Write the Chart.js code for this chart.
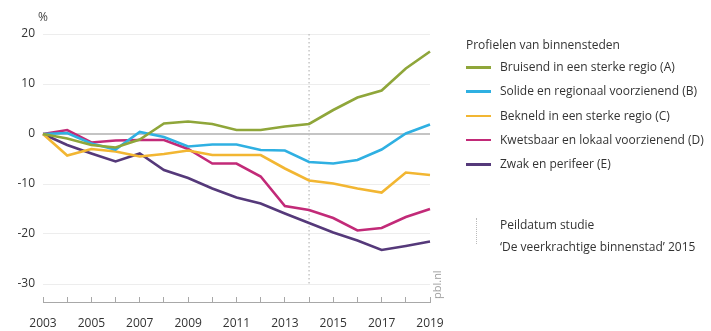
<!DOCTYPE html>
<html lang="nl">
<head>
<meta charset="utf-8">
<title>Profielen van binnensteden</title>
<script src="https://cdn.jsdelivr.net/npm/chart.js@4/dist/chart.umd.min.js"></script>
<style>
  html, body { margin: 0; padding: 0; background: #fff; }
  #wrap { position: relative; width: 711px; height: 331px; font-family: "Open Sans", sans-serif; color: #333; }
  #chart { position: absolute; left: 0; top: 0; }
  .unit { position: absolute; left: 38px; top: 8px; font-size: 12px; color: #444; }
  .src { position: absolute; left: 429px; top: 299px; font-size: 11px; color: #a0a0a0; transform: rotate(-90deg); transform-origin: left top; }
  #legend { position: absolute; left: 466px; top: 36px; font-size: 12px; color: #333; }
  #legend .title { margin-bottom: 6px; }
  #legend .item { position: relative; height: 24.3px; line-height: 15px; padding-left: 34px; }
  #legend .swatch { position: absolute; left: 0; top: 7px; width: 25px; height: 2.5px; }
  #legend .peil { position: relative; margin-top: 34px; padding-left: 34px; line-height: 22px; }
  #legend .dots { position: absolute; left: 10px; top: 4px; height: 26px; border-left: 1.5px dotted #bbb; }
</style>
</head>
<body>
<div id="wrap">
  <canvas id="chart" width="711" height="331"></canvas>
  <div class="unit">%</div>
  <div class="src">pbl.nl</div>
  <div id="legend"></div>
</div>
<script>
// jaren op de x-as
const years = ['2003', '2004', '2005', '2006', '2007', '2008', '2009', '2010', '2011',
               '2012', '2013', '2014', '2015', '2016', '2017', '2018', '2019'];

// profielen (legenda) en kleuren
const profileNames = [
    'Bruisend in een sterke regio (A)',
    'Solide en regionaal voorzienend (B)',
    'Bekneld in een sterke regio (C)',
    'Kwetsbaar en lokaal voorzienend (D)',
    'Zwak en perifeer (E)'
];
const profileColors = ['#8fa63a', '#2fb0e2', '#f2b632', '#c22a78', '#55397a'];

const bruisend   = [0, -0.9, -2.2, -2.7, -1.1, 2.1, 2.5, 2.0, 0.8, 0.8, 1.5, 2.0, 4.8, 7.3, 8.7, 13.1, 16.5];
const solide     = [0, 0.2, -1.9, -3.1, 0.4, -0.6, -2.5, -2.1, -2.1, -3.2, -3.3, -5.6, -5.9, -5.2, -3.1, 0.1, 1.9];
const bekneld    = [0, -4.3, -3.0, -3.5, -4.5, -4.0, -3.3, -4.2, -4.2, -4.2, -6.9, -9.3, -9.9, -10.9, -11.7, -7.7, -8.2];
const kwetsbaar  = [0, 0.8, -1.7, -1.3, -1.2, -1.2, -3.0, -5.9, -5.9, -8.5, -14.4, -15.2, -16.8, -19.3, -18.8, -16.6, -15.0];
const zwak       = [0, -2.2, -3.9, -5.5, -3.9, -7.2, -8.8, -10.9, -12.7, -13.9, -15.9, -17.8, -19.7, -21.3, -23.2, -22.4, -21.5];

const seriesValues = [bruisend, solide, bekneld, kwetsbaar, zwak];

// peildatum studie
const peilYear = '2014';
const peilLabel = ['Peildatum studie', '\u2018De veerkrachtige binnenstad\u2019 2015'];

const yTicks = [-30, -20, -10, 0, 10, 20];

// legenda opbouwen
const legend = document.getElementById('legend');
let html = '<div class="title">Profielen van binnensteden</div>';
profileNames.forEach(function(name, i) {
    html += '<div class="item"><span class="swatch" style="background:' + profileColors[i] + '"></span>' + name + '</div>';
});
html += '<div class="peil"><span class="dots"></span>' + peilLabel[0] + '<br>' + peilLabel[1] + '</div>';
legend.innerHTML = html;

// verticale stippellijn bij de peildatum
const peilLine = {
    id: 'peilLine',
    beforeDatasetsDraw(chart) {
        const x = chart.scales.x.getPixelForValue(years.indexOf(peilYear));
        const yTop = chart.scales.y.getPixelForValue(yTicks[yTicks.length - 1]);
        const yBottom = chart.scales.y.getPixelForValue(yTicks[0]);
        const ctx = chart.ctx;
        ctx.save();
        ctx.strokeStyle = '#bdbdbd';
        ctx.lineWidth = 1.3;
        ctx.setLineDash([1.5, 2.5]);
        ctx.beginPath();
        ctx.moveTo(x, yTop);
        ctx.lineTo(x, yBottom);
        ctx.stroke();
        ctx.restore();
    }
};

Chart.defaults.font.family = '"Open Sans", sans-serif';
Chart.defaults.font.size = 12;
Chart.defaults.color = '#444';

new Chart(document.getElementById('chart').getContext('2d'), {
    type: 'line',
    data: {
        labels: years,
        datasets: seriesValues.map(function(values, i) {
            return {
                label: profileNames[i],
                data: values,
                borderColor: profileColors[i],
                backgroundColor: profileColors[i],
                borderWidth: 2.6,
                pointRadius: 0,
                tension: 0,
                fill: false
            };
        })
    },
    options: {
        responsive: false,
        animation: false,
        layout: { padding: { left: 0, right: 281, top: 34, bottom: 0 } },
        plugins: {
            legend: { display: false },
            tooltip: { enabled: false }
        },
        scales: {
            x: {
                type: 'category',
                offset: false,
                afterFit(scale) { scale.height = 29; },
                border: { display: true, color: '#a8a8a8', width: 1 },
                grid: {
                    drawOnChartArea: false,
                    drawTicks: true,
                    tickLength: -5,
                    color: '#a8a8a8'
                },
                ticks: {
                    autoSkip: false,
                    maxRotation: 0,
                    padding: 19,
                    color: '#333',
                    callback: function(value, index) {
                        return index % 2 === 0 ? years[index] : '';
                    }
                }
            },
            y: {
                min: -33.6,
                max: 20,
                afterFit(scale) { scale.width = 43; },
                border: { display: false },
                grid: {
                    drawTicks: false,
                    color: function(ctx) { return ctx.tick && ctx.tick.value === 0 ? '#c4c4c4' : '#ededed'; },
                    lineWidth: function(ctx) { return ctx.tick && ctx.tick.value === 0 ? 2 : 1; }
                },
                ticks: {
                    stepSize: 10,
                    includeBounds: false,
                    padding: 8,
                    color: '#333'
                }
            }
        }
    },
    plugins: [peilLine]
});
</script>
</body>
</html>
